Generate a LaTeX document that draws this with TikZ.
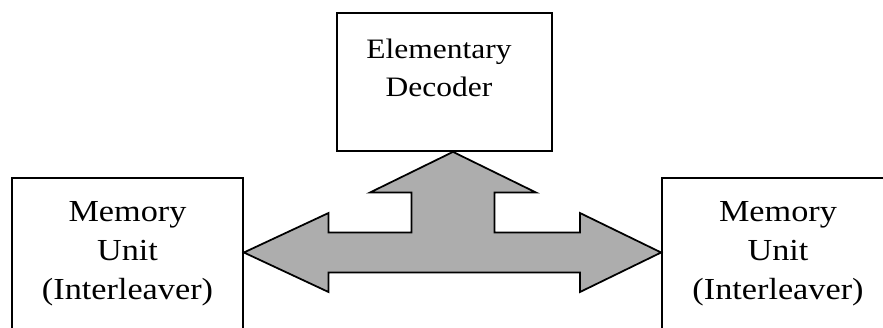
\documentclass[tikz,border=0pt]{standalone}
\usepackage{fontspec}
\setmainfont[FakeStretch=1.12]{Liberation Serif}
\usetikzlibrary{positioning,calc}

\begin{document}
\begin{tikzpicture}[
    unit/.style={draw, line width=1pt, inner sep=0pt},
    memtext/.style={align=center, font=\fontsize{17.4}{22.1}\selectfont},
    dectext/.style={align=center, font=\fontsize{16}{21.6}\selectfont},
    bus/.style={draw, line width=1pt, fill=black!32, line join=miter},
]

\useasboundingbox (0,0) rectangle (17.66,6.54);
\clip (0,0) rectangle (17.66,6.54);

% Decoder on top
\node[unit, minimum width=4.30cm, minimum height=2.76cm] (dec) at (8.89, 4.90) {};
\node[dectext, anchor=north] (dectxt) at (8.78, 5.88) {Elementary\\Decoder};

% Memory units (cut off by the frame)
\node[unit, memtext, minimum width=4.62cm, minimum height=3.04cm] (memL) at (2.55, 1.46) {Memory\\Unit\\(Interleaver)};
\node[unit, memtext, minimum width=4.64cm, minimum height=3.04cm] (memR) at (15.56, 1.46) {Memory\\Unit\\(Interleaver)};

% Three-way arrow between them
\coordinate (hub) at (9.06, 1.49);
\draw[bus] (memL.east |- hub)
  -- ($(hub)+(-2.49,0.79)$) -- ($(hub)+(-2.49,0.40)$)
  -- ($(hub)+(-0.83,0.40)$) -- ($(hub)+(-0.83,1.20)$)
  -- ($(hub)+(-1.66,1.20)$) -- (hub |- dec.south)
  -- ($(hub)+(1.66,1.20)$) -- ($(hub)+(0.83,1.20)$)
  -- ($(hub)+(0.83,0.40)$) -- ($(hub)+(2.54,0.40)$)
  -- ($(hub)+(2.54,0.79)$) -- (memR.west |- hub)
  -- ($(hub)+(2.54,-0.79)$) -- ($(hub)+(2.54,-0.40)$)
  -- ($(hub)+(-2.49,-0.40)$) -- ($(hub)+(-2.49,-0.79)$) -- cycle;

\end{tikzpicture}
\end{document}
